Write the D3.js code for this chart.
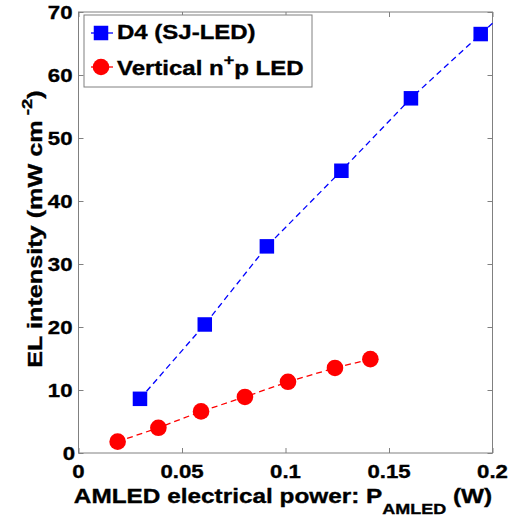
<!DOCTYPE html>
<html><head><meta charset="utf-8">
<script src="https://cdn.jsdelivr.net/npm/d3@7"></script>
<style>body{margin:0;background:#fff}svg{display:block}text{font-family:"Liberation Sans",Arial,sans-serif;font-weight:bold;fill:#000;stroke:#000;stroke-width:0.35}</style>
</head><body>
<script>
const xTicks = [0, 0.05, 0.1, 0.15, 0.2];
const xTickLabels = ["0", "0.05", "0.1", "0.15", "0.2"];
const yTicks = [0, 10, 20, 30, 40, 50, 60, 70];
const d4X = [0.0297, 0.061, 0.091, 0.127, 0.1606, 0.1943];
const d4Y = [8.6, 20.4, 32.8, 44.8, 56.3, 66.5];
const vertX = [0.0189, 0.0386, 0.0592, 0.0804, 0.1012, 0.1239, 0.141];
const vertY = [1.8, 4.0, 6.6, 8.9, 11.3, 13.5, 14.9];
const seriesNames = ["D4 (SJ-LED)", "Vertical n", "+", "p LED"];

const W = 521, H = 518;
const m = {l: 78.5, r: 492.5, t: 12, b: 453};
const svg = d3.select("body").append("svg").attr("width", W).attr("height", H);
const x = d3.scaleLinear().domain([0, 0.2]).range([m.l, m.r]);
const y = d3.scaleLinear().domain([0, 70]).range([m.b, m.t]);

function label(parent, px, py, anchor, size, sx, rot) {
  const g = parent.append("g").attr("transform", `translate(${px},${py})` + (rot ? ` rotate(${rot})` : "") + ` scale(${sx},1)`);
  return g.append("text").attr("text-anchor", anchor).attr("font-size", size);
}

const axisCol = "#808080";
const tl = 5;
const g = svg.append("g");
const tickStyle = s => { s.select(".domain").remove(); s.selectAll("line").attr("stroke", axisCol); };
g.append("g").attr("transform", `translate(0,${m.b})`)
  .call(d3.axisBottom(x).tickValues(xTicks).tickSize(-tl).tickFormat("")).call(tickStyle);
g.append("g").attr("transform", `translate(0,${m.t})`)
  .call(d3.axisTop(x).tickValues(xTicks).tickSize(-tl).tickFormat("")).call(tickStyle);
g.append("g").attr("transform", `translate(${m.l},0)`)
  .call(d3.axisLeft(y).tickValues(yTicks).tickSize(-tl).tickFormat("")).call(tickStyle);
g.append("g").attr("transform", `translate(${m.r},0)`)
  .call(d3.axisRight(y).tickValues(yTicks).tickSize(-tl).tickFormat("")).call(tickStyle);
svg.append("rect").attr("x", m.l).attr("y", m.t).attr("width", m.r - m.l).attr("height", m.b - m.t)
  .attr("fill", "none").attr("stroke", axisCol).attr("stroke-width", 1);

// tick labels
const xt = svg.append("g");
xTicks.forEach((d, i) => label(xt, x(d), 478, "middle", 18.5, 1.2).text(xTickLabels[i]));
const yt = svg.append("g");
yTicks.forEach(d => label(yt, d === 0 ? 75 : 72.5, y(d) + 7, "end", 18.5, 1.2).text(d));

// axis labels
const xl = label(svg, 283, 503, "middle", 21, 1.16);
xl.append("tspan").text("AMLED electrical power: P");
xl.append("tspan").attr("font-size", 15.5).attr("dy", 11).text("AMLED");
xl.append("tspan").attr("dy", -11).text(" (W)");

const yl = label(svg, 42, 229, "middle", 21, 1.2, -90);
yl.append("tspan").text("EL intensity (mW cm");
yl.append("tspan").attr("font-size", 15.5).attr("dy", -10).text(" -2");
yl.append("tspan").attr("dy", 10).text(")");

// lines
const line = d3.line().x(d => x(d[0])).y(d => y(d[1]));
const d4 = d4X.map((v, i) => [v, d4Y[i]]);
const n = d4.length;
const slope = (d4[n-1][1] - d4[n-2][1]) / (d4[n-1][0] - d4[n-2][0]);
const d4Line = d4.concat([[x.domain()[1], d4[n-1][1] + slope * (x.domain()[1] - d4[n-1][0])]]);
const vert = vertX.map((v, i) => [v, vertY[i]]);
svg.append("path").attr("d", line(d4Line)).attr("fill", "none").attr("stroke", "#0000ff")
  .attr("stroke-width", 1.3).attr("stroke-dasharray", "6,4");
svg.append("path").attr("d", line(vert)).attr("fill", "none").attr("stroke", "#ff0000")
  .attr("stroke-width", 1.3).attr("stroke-dasharray", "6,4");

const sq = 14.5;
svg.append("g").selectAll("rect").data(d4).join("rect")
  .attr("x", d => x(d[0]) - sq/2).attr("y", d => y(d[1]) - sq/2).attr("width", sq).attr("height", sq).attr("fill", "#0000ff");
svg.append("g").selectAll("circle").data(vert).join("circle")
  .attr("cx", d => x(d[0])).attr("cy", d => y(d[1])).attr("r", 8.3).attr("fill", "#ff0000");

// legend
const lg = svg.append("g");
lg.append("rect").attr("x", 84).attr("y", 15).attr("width", 228).attr("height", 72)
  .attr("fill", "#fff").attr("stroke", axisCol).attr("stroke-width", 1);
lg.append("line").attr("x1", 91).attr("x2", 113).attr("y1", 33).attr("y2", 33).attr("stroke", "#0000ff").attr("stroke-width", 1.3);
lg.append("rect").attr("x", 101 - sq/2).attr("y", 33 - sq/2).attr("width", sq).attr("height", sq).attr("fill", "#0000ff");
lg.append("line").attr("x1", 91).attr("x2", 113).attr("y1", 67).attr("y2", 67).attr("stroke", "#ff0000").attr("stroke-width", 1.3);
lg.append("circle").attr("cx", 101).attr("cy", 67).attr("r", 8.3).attr("fill", "#ff0000");
label(lg, 117, 39, "start", 20, 1.2).text(seriesNames[0]);
const t2 = label(lg, 117, 75, "start", 20, 1.2);
t2.append("tspan").text(seriesNames[1]);
t2.append("tspan").attr("font-size", 15).attr("dy", -10).text(seriesNames[2]);
t2.append("tspan").attr("dy", 10).text(seriesNames[3]);
</script>
</body></html>
